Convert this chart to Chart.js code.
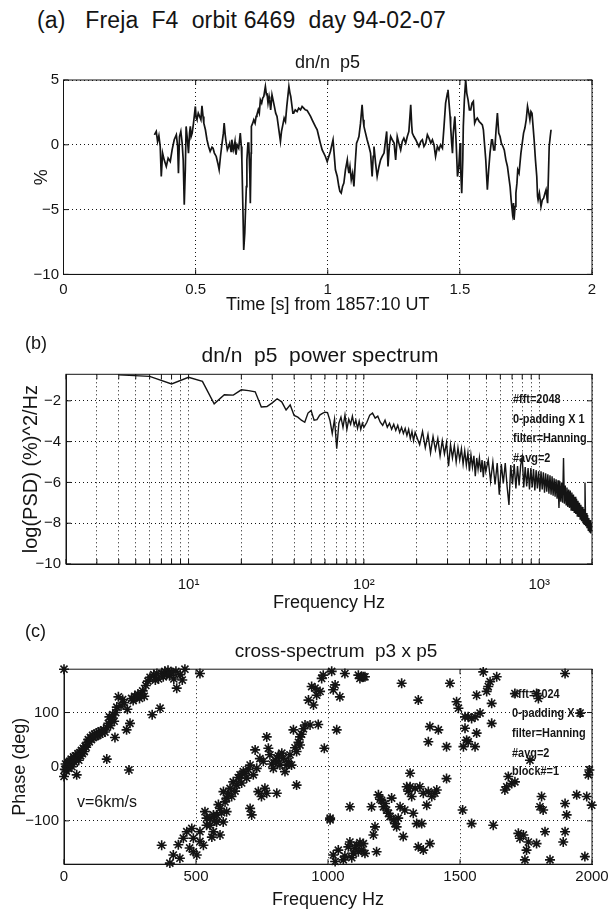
<!DOCTYPE html>
<html>
<head>
<meta charset="utf-8">
<title>Freja F4 orbit 6469</title>
<script src="https://cdn.jsdelivr.net/npm/chart.js@4.4.1/dist/chart.umd.min.js"></script>
<style>
  body { margin: 0; background: #fff; }
  #page { position: relative; width: 613px; height: 911px; background: #fff; overflow: hidden;
          font-family: "Liberation Sans", Arial, Helvetica, sans-serif; color: #141414; }
  .box { position: absolute; left: 0; width: 613px; }
  .t { position: absolute; white-space: pre; line-height: 1; }
  .note { position: absolute; white-space: pre; line-height: 1; font-size: 13px; font-weight: bold;
          transform: scaleX(0.84); transform-origin: 0 50%; }
</style>
</head>
<body>
<div id="page">
  <div class="box" style="top:60px;height:259px"><canvas id="chartA"></canvas></div>
  <div class="box" style="top:330px;height:285px"><canvas id="chartB"></canvas></div>
  <div class="box" style="top:640px;height:271px"><canvas id="chartC"></canvas></div>

  <div class="t" style="left:37px;top:9px;font-size:23px;letter-spacing:0.15px">(a)   Freja  F4  orbit 6469  day 94-02-07</div>
  <div class="t" style="left:63px;width:529px;top:53px;font-size:18px;text-align:center">dn/n  p5</div>

  <div class="t" style="left:25px;top:334px;font-size:18px">(b)</div>
  <div class="t" style="left:57px;width:526px;top:344px;font-size:21px;text-align:center">dn/n  p5  power spectrum</div>
  <div class="note" style="left:513px;top:392px">#fft=2048</div>
  <div class="note" style="left:513px;top:412px">0-padding X 1</div>
  <div class="note" style="left:513px;top:431px">filter=Hanning</div>
  <div class="note" style="left:513px;top:451px">#avg=2</div>

  <div class="t" style="left:25px;top:622px;font-size:18px">(c)</div>
  <div class="t" style="left:72px;width:528px;top:641px;font-size:19px;text-align:center">cross-spectrum  p3 x p5</div>
  <div class="t" style="left:77px;top:794px;font-size:16px">v=6km/s</div>
  <div class="note" style="left:512px;top:687px">#fft=1024</div>
  <div class="note" style="left:512px;top:706px">0-padding X 1</div>
  <div class="note" style="left:512px;top:726px">filter=Hanning</div>
  <div class="note" style="left:512px;top:746px">#avg=2</div>
  <div class="note" style="left:512px;top:764px">block#=1</div>
</div>

<script>
// (a) dn/n p5 time series
var timeS = [
  0.344,0.351,0.356,0.361,0.366,0.370,0.375,0.381,0.389,0.396,
  0.404,0.411,0.419,0.427,0.432,0.435,0.439,0.444,0.449,0.453,
  0.457,0.461,0.464,0.469,0.473,0.477,0.480,0.483,0.487,0.492,
  0.499,0.502,0.505,0.510,0.515,0.520,0.524,0.528,0.531,0.537,
  0.543,0.549,0.555,0.562,0.566,0.571,0.578,0.584,0.589,0.594,
  0.600,0.605,0.608,0.612,0.615,0.620,0.625,0.629,0.634,0.637,
  0.641,0.644,0.649,0.653,0.657,0.663,0.669,0.673,0.675,0.679,
  0.682,0.686,0.688,0.692,0.694,0.698,0.701,0.705,0.707,0.710,
  0.711,0.716,0.720,0.725,0.729,0.732,0.737,0.741,0.745,0.750,
  0.754,0.758,0.761,0.764,0.768,0.770,0.774,0.778,0.780,0.784,
  0.789,0.793,0.798,0.803,0.808,0.815,0.821,0.825,0.830,0.835,
  0.840,0.845,0.849,0.853,0.857,0.860,0.864,0.868,0.871,0.877,
  0.884,0.890,0.897,0.903,0.909,0.915,0.922,0.928,0.935,0.941,
  0.947,0.953,0.960,0.966,0.972,0.979,0.985,0.991,0.998,1.004,
  1.010,1.017,1.020,1.026,1.029,1.036,1.042,1.046,1.051,1.056,
  1.061,1.067,1.074,1.077,1.080,1.084,1.089,1.094,1.099,1.104,
  1.109,1.114,1.118,1.124,1.130,1.134,1.137,1.143,1.149,1.156,
  1.162,1.168,1.172,1.175,1.181,1.187,1.194,1.200,1.206,1.213,
  1.219,1.223,1.228,1.233,1.238,1.244,1.251,1.257,1.263,1.269,
  1.276,1.282,1.288,1.295,1.301,1.307,1.314,1.318,1.320,1.326,
  1.333,1.339,1.345,1.352,1.358,1.364,1.371,1.377,1.383,1.390,
  1.396,1.402,1.408,1.415,1.421,1.427,1.434,1.440,1.446,1.453,
  1.455,1.459,1.463,1.465,1.469,1.472,1.475,1.481,1.486,1.491,
  1.496,1.501,1.503,1.507,1.511,1.513,1.517,1.522,1.526,1.531,
  1.536,1.541,1.546,1.551,1.556,1.561,1.566,1.573,1.579,1.585,
  1.589,1.594,1.598,1.602,1.604,1.609,1.614,1.620,1.623,1.628,
  1.632,1.637,1.642,1.647,1.652,1.657,1.663,1.668,1.674,1.680,
  1.685,1.690,1.694,1.699,1.703,1.705,1.709,1.712,1.716,1.719,
  1.724,1.731,1.736,1.741,1.746,1.751,1.756,1.761,1.765,1.769,
  1.773,1.777,1.781,1.786,1.791,1.794,1.796,1.801,1.807,1.812,
  1.817,1.822,1.826,1.829,1.832,1.835,1.838,1.842,1.845
];
var dnPct = [
  0.77,1.03,0.26,0.71,-0.13,-2.45,-0.64,-1.16,-1.67,-1.03,
  -1.29,-0.39,0.39,0.77,-0.13,-2.19,0.64,1.03,0.13,-1.16,
  -4.63,-1.93,1.42,0.39,-0.64,0.90,1.42,0.64,0.90,1.67,
  2.96,2.06,1.93,2.44,2.19,1.93,3.01,2.19,1.67,1.16,
  0.39,-0.13,-0.51,-0.18,-0.26,-0.64,-0.90,-1.42,-1.93,-0.90,
  0.13,0.90,1.67,0.77,0.26,-0.39,-0.13,0.13,-0.51,0.39,
  -0.13,-0.39,0.26,-0.77,0.00,-0.26,0.90,-0.13,-1.16,-5.02,
  -8.11,-6.82,-5.53,-3.22,-1.16,0.13,0.13,-2.19,-4.50,-0.64,
  1.42,1.67,1.93,1.67,2.19,2.32,2.70,2.44,3.47,3.22,
  3.60,3.73,4.12,4.50,3.86,3.99,3.22,3.73,3.47,2.70,
  3.86,3.47,2.96,2.44,2.19,1.16,0.26,1.03,1.54,2.06,
  1.80,2.96,3.73,4.50,3.99,3.73,3.09,2.44,2.44,2.70,
  2.57,2.83,2.70,2.96,2.83,2.70,2.65,2.44,2.19,1.93,
  1.67,1.42,1.16,0.64,0.13,-0.39,-0.64,-0.90,-1.29,-0.90,
  -0.51,0.13,0.39,-1.16,-1.93,-2.45,-3.22,-3.60,-3.73,-3.22,
  -2.96,-1.93,-1.16,-1.80,-2.19,-1.67,-2.70,-2.19,-3.22,-1.42,
  0.13,0.39,0.64,1.67,3.09,1.93,1.42,0.90,0.39,-0.13,
  -0.64,-2.45,-0.90,-0.13,-1.42,-2.45,-1.67,-1.16,-0.90,-0.64,
  0.39,1.03,-1.67,-0.13,0.64,0.39,0.13,-1.16,0.64,0.13,
  -0.39,0.26,0.51,0.13,0.64,1.03,3.09,1.42,0.90,0.64,
  0.39,0.13,-0.13,0.26,0.39,-0.13,0.13,0.77,0.51,0.13,
  0.39,0.00,-0.90,-0.13,-0.39,0.00,-0.26,1.42,3.22,3.99,
  4.25,3.22,2.19,1.42,0.13,-0.64,0.90,2.19,0.13,-2.45,
  -1.67,0.13,-1.93,-3.73,-1.16,1.42,3.47,5.02,3.99,3.47,
  2.70,2.70,3.22,3.35,1.67,1.93,2.06,1.80,1.67,1.54,
  1.16,-0.13,-1.16,-2.70,-3.47,-1.93,-0.64,0.39,0.39,-0.39,
  -0.39,1.16,2.44,0.90,0.64,0.13,-0.13,-0.39,-1.16,-1.67,
  -2.45,-3.22,-4.25,-5.28,-4.50,-5.79,-4.76,-3.73,-2.96,-1.93,
  -2.19,-0.64,0.13,0.90,1.29,1.93,2.96,2.44,1.93,2.57,
  2.44,1.42,0.39,-1.16,-2.45,-3.99,-4.25,-3.73,-4.76,-4.25,
  -4.12,-3.73,-3.47,-3.99,-4.50,-2.45,-0.13,0.64,1.16
];

// (b) power spectrum, log10 of PSD
var psdFreq = [
  4,6,8,10,12,14,16,18,20,22,
  24,26,28,30,32,34,36,38,40,42,
  44,46,48,50,52,54,56,58,60,62,
  64,66,68,70,72,74,76,78,80,82,
  84,86,88,90,92,94,96,98,100,
  104,108,112,116,120,124,128,132,136,140,
  144,148,152,156,160,164,168,172,176,180,
  184,188,192,196,200,
  208,216,224,232,240,248,256,264,272,280,
  288,296,304,312,320,328,336,344,352,360,
  368,376,384,392,400,408,416,424,432,440,
  448,456,464,472,480,488,496,
  512,528,544,560,576,592,608,624,640,656,
  672,688,704,720,736,752,768,784,800,816,
  832,848,864,880,896,912,928,944,960,976,
  992,1008,1024,1040,1056,1072,1088,1104,1120,1136,
  1152,1168,1184,1200,1216,1232,1248,1264,1280,1296,
  1312,1328,1344,1360,1376,1392,1408,1424,1440,1456,
  1472,1488,1504,1520,1536,1552,1568,1584,1600,1616,
  1632,1648,1664,1680,1696,1712,1728,1744,1760,1776,
  1792,1808,1824,1840,1856,1872,1888,1904,1920,1936,
  1952,1968,1984,2000
];
var psdLog = [
  -0.73,-0.80,-1.17,-0.85,-1.05,-2.15,-1.70,-1.72,-1.46,-1.50,
  -1.56,-2.30,-2.28,-2.10,-1.90,-2.05,-2.45,-2.20,-2.72,-2.80,
  -2.95,-3.05,-2.60,-2.47,-2.95,-2.92,-2.70,-2.62,-2.56,-2.58,
  -2.95,-3.60,-2.90,-4.35,-3.10,-2.80,-3.30,-2.70,-3.40,-2.90,
  -3.15,-2.75,-3.20,-2.95,-3.35,-3.00,-3.40,-3.10,-3.30,
  -3.05,-2.70,-2.60,-2.85,-2.75,-3.05,-3.20,-2.95,-3.30,-3.10,
  -3.40,-3.15,-3.45,-3.20,-3.55,-3.30,-3.60,-3.35,-3.70,-3.40,
  -3.85,-3.50,-3.95,-3.55,-3.75,
  -4.15,-3.50,-4.30,-3.65,-4.55,-3.75,-4.40,-3.85,-4.70,-3.95,
  -4.60,-4.05,-5.20,-4.15,-4.80,-4.20,-5.00,-4.30,-4.90,-4.35,
  -5.10,-4.45,-5.15,-4.55,-5.45,-4.65,-5.25,-4.70,-5.70,-4.80,
  -5.35,-4.80,-5.50,-4.90,-5.75,-4.95,-5.45,
  -4.90,-5.95,-5.00,-6.10,-5.05,-6.60,-5.10,-6.05,-5.05,-6.20,
  -7.10,-5.15,-6.10,-5.10,-6.30,-5.20,-6.15,-5.15,-4.75,-6.25,
  -5.25,-6.20,-5.30,-6.35,-5.30,-6.25,-5.35,-6.40,-5.40,-6.30,
  -5.45,-6.45,-5.45,-6.35,-5.50,-6.50,-5.55,-6.45,-5.60,-6.55,
  -5.65,-6.60,-5.70,-6.65,-5.80,-6.70,-5.85,-6.80,-5.90,-7.25,
  -5.95,-6.95,-6.00,-7.00,-4.80,-7.05,-6.15,-7.10,-6.25,-7.20,
  -6.35,-7.25,-6.40,-7.35,-6.50,-7.40,-6.60,-7.50,-6.70,-7.55,
  -6.80,-7.65,-6.90,-7.70,-7.00,-7.80,-7.10,-7.90,-7.20,-8.00,
  -7.30,-8.05,-6.00,-8.15,-7.50,-8.25,-7.60,-8.35,-7.75,-8.45,
  -7.85,-8.50,-8.00,-8.40
];
var logTicks = [2,3,4,5,6,7,8,9,10,20,30,40,50,60,70,80,90,100,200,300,400,500,600,700,800,900,1000,2000];
var decadeLabels = { 10: '10\u00b9', 100: '10\u00b2', 1000: '10\u00b3' };
var psdTicks = [-10, -8, -6, -4, -2];

// (c) cross-spectrum phase p3 x p5
var crossFreq = [
  0,0,3,6,9,12,15,18,21,24,
  27,30,33,36,40,43,48,50,53,56,
  60,63,66,70,73,77,80,84,88,92,
  96,100,104,108,112,116,120,124,128,132,
  136,140,145,150,155,162,162,168,172,176,
  180,185,190,193,196,200,206,216,222,228,
  237,240,246,250,256,262,268,274,280,286,
  292,298,304,310,318,326,334,340,346,352,
  358,364,370,376,382,388,394,400,408,416,
  424,427,440,448,458,515,
  370,401,414,433,439,452,465,476,484,490,
  490,503,515,515,528,534,540,540,553,553,
  560,566,566,572,578,578,585,591,591,597,
  603,604,610,616,616,622,629,635,641,648,
  654,660,667,673,679,686,692,698,705,705,
  711,717,724,730,736,742,748,755,761,768,
  768,774,780,787,793,800,806,806,812,818,
  825,831,837,844,850,856,862,869,875,881,
  881,888,894,894,900,907,913,926,932,938,
  945,951,957,963,970,976,982,986,1008,1014,
  1008,1020,1027,1039,1058,1064,1077,1083,1083,1090,
  1096,1102,1108,1115,1121,1128,1134,1140,1165,1172,
  1178,1184,1191,1197,1203,1210,1216,1222,1229,1235,
  1241,1248,1254,1260,1266,1273,1285,1291,1298,1304,
  1311,1311,1317,1323,1330,1336,1342,1348,1355,1361,
  1361,1374,1380,1386,1393,1405,1412,1449,1510,1544,
  1626,
  1020,1027,1033,1045,1064,1115,1121,1128,1134,1140,
  1279,1342,1380,1386,1418,1449,1462,1487,1494,1513,
  1519,1519,1525,1531,1531,1544,1557,1557,1563,1563,
  1576,1588,1601,1607,1614,1620,1620,1639,1708,1765,
  1790,1797,1898,1955,
  1670,1677,1683,1696,1708,1721,1727,1740,1746,1752,
  1759,1790,1803,1809,1815,1822,1841,1891,1898,1898,
  1904,1942,1973,1980,1986,1990,1999
];
var crossPhase = [
  180,-18,-5,5,-8,2,8,-3,10,4,
  14,0,12,18,8,20,-15,16,24,12,
  26,20,30,24,34,28,38,36,45,50,
  46,54,50,58,54,60,56,62,58,64,
  60,66,62,68,64,14,72,80,92,76,
  88,96,84,54,100,110,129,112,124,118,
  68,106,-6,80,126,122,130,128,134,126,
  132,140,130,150,158,165,96,170,160,172,
  162,108,172,166,176,170,178,168,174,162,
  176,145,170,160,180,172,
  -145,-178,-163,-144,-169,-132,-120,-150,-114,-132,
  -157,-163,-120,-138,-145,-83,-95,-108,-108,-95,
  -130,-89,-120,-100,-102,-89,-70,-77,-126,-85,
  -102,-46,-65,-58,-83,-50,-40,-55,-28,-45,
  -34,-20,-15,-30,-9,-12,-21,-5,3,-77,
  -89,-15,31,-3,-46,15,-55,10,-40,55,
  -49,34,22,5,-3,12,9,-49,20,3,
  25,15,-9,3,9,22,3,68,35,28,
  -34,45,55,40,60,70,77,123,77,148,
  114,145,132,78,139,163,169,34,-98,176,
  -95,-163,-175,-154,-172,-165,-148,-139,-74,-168,
  -160,-151,-145,-157,-140,-154,-142,-160,-74,-126,
  -111,-157,-52,-60,-62,-74,-68,-80,-86,-92,
  -58,-98,-105,-111,-95,-74,-129,-80,-37,-45,
  -37,-12,-55,-86,-40,-105,-148,-37,-105,-49,
  -154,-71,-46,-142,-55,-49,-43,-22,-80,-105,
  -108,
  142,151,68,129,172,169,163,166,166,166,
  154,123,46,74,68,37,154,120,108,37,
  92,71,49,92,46,89,92,37,62,132,
  99,175,139,148,157,117,80,166,135,12,
  135,126,172,99,
  -43,-37,-18,-31,-28,-123,-132,-126,-172,-154,
  -139,-142,-74,-55,-80,-120,-172,-139,-68,-120,
  -89,-52,-166,-55,-15,-6,-71
];
var phaseTicks = [-100, 0, 100];

var ink = '#141414';
Chart.defaults.font.family = '"Liberation Sans", Arial, Helvetica, sans-serif';
Chart.defaults.color = ink;

function toPoints(xs, ys) {
    var pts = [];
    for (var i = 0; i < xs.length; i++) {
        pts.push({ x: xs[i], y: ys[i] });
    }
    return pts;
}

// plain numbers, real minus sign, no thousands comma
function plainLabel(value) {
    return String(value).replace('-', '\u2212');
}

function setTicks(list) {
    return function (scale) {
        scale.ticks = list.map(function (v) { return { value: v }; });
    };
}

// matlab style box round the plot area, with short inward tick marks
var frame = {
    id: 'frame',
    afterDatasetsDraw: function (chart) {
        var a = chart.chartArea;
        var ctx = chart.ctx;
        var len = 5;
        ctx.save();
        ctx.strokeStyle = ink;
        ctx.lineWidth = 1;
        ctx.strokeRect(a.left, a.top, a.right - a.left, a.bottom - a.top);
        ctx.beginPath();
        chart.scales.x.ticks.forEach(function (t) {
            var px = chart.scales.x.getPixelForValue(t.value);
            ctx.moveTo(px, a.bottom); ctx.lineTo(px, a.bottom - len);
            ctx.moveTo(px, a.top); ctx.lineTo(px, a.top + len);
        });
        chart.scales.y.ticks.forEach(function (t) {
            var py = chart.scales.y.getPixelForValue(t.value);
            ctx.moveTo(a.left, py); ctx.lineTo(a.left + len, py);
            ctx.moveTo(a.right, py); ctx.lineTo(a.right - len, py);
        });
        ctx.stroke();
        ctx.restore();
    }
};

var grid = { color: ink, lineWidth: 1, drawTicks: false };
var border = { display: true, color: ink, dash: [1, 3] };
var tickFont = { size: 15 };
var titleFont = { size: 18 };

var common = {
    responsive: true,
    maintainAspectRatio: false,
    animation: false,
    plugins: { legend: { display: false }, tooltip: { enabled: false } }
};

// (a)
new Chart(document.getElementById('chartA'), {
    type: 'line',
    data: {
        datasets: [{
            data: toPoints(timeS, dnPct),
            borderColor: ink,
            borderWidth: 1.7,
            pointRadius: 0,
            tension: 0
        }]
    },
    options: Object.assign({}, common, {
        layout: { padding: { top: 20, right: 21, left: 0, bottom: 0 } },
        scales: {
            x: {
                type: 'linear', min: 0, max: 2,
                grid: grid, border: border,
                ticks: { stepSize: 0.5, padding: 6, font: tickFont, color: ink, maxRotation: 0, callback: plainLabel },
                title: { display: true, text: 'Time [s] from 1857:10 UT', font: titleFont, color: ink, padding: { top: 0, bottom: 3 } },
                afterFit: function (s) { s.height = 44.6; }
            },
            y: {
                min: -10, max: 5,
                grid: grid, border: border,
                ticks: { stepSize: 5, padding: 4.5, font: tickFont, color: ink, callback: plainLabel },
                title: { display: true, text: '%', font: titleFont, color: ink, padding: { top: 31, bottom: 0 } },
                afterFit: function (s) { s.width = 63.5; }
            }
        }
    }),
    plugins: [frame]
});

// (b)
new Chart(document.getElementById('chartB'), {
    type: 'line',
    data: {
        datasets: [{
            data: toPoints(psdFreq, psdLog),
            borderColor: ink,
            borderWidth: 1.4,
            pointRadius: 0,
            tension: 0
        }]
    },
    options: Object.assign({}, common, {
        layout: { padding: { top: 44.3, right: 21, left: 0, bottom: 0 } },
        scales: {
            x: {
                type: 'logarithmic', min: 2, max: 2000,
                grid: grid, border: border,
                afterBuildTicks: setTicks(logTicks),
                ticks: {
                    autoSkip: false, maxRotation: 0, padding: 12, font: tickFont, color: ink,
                    callback: function (v) { return decadeLabels[v] || ''; }
                },
                title: { display: true, text: 'Frequency Hz', font: titleFont, color: ink, padding: { top: 0, bottom: 1.2 } },
                afterFit: function (s) { s.height = 51; }
            },
            y: {
                min: -10, max: -0.7,
                grid: grid, border: border,
                afterBuildTicks: setTicks(psdTicks),
                ticks: { padding: 5, font: tickFont, color: ink, callback: plainLabel },
                title: { display: true, text: 'log(PSD) (%)^2/Hz', font: { size: 20 }, color: ink, padding: { top: 19, bottom: 0 } },
                afterFit: function (s) { s.width = 66; }
            }
        }
    }),
    plugins: [frame]
});

// (c)
new Chart(document.getElementById('chartC'), {
    type: 'scatter',
    data: {
        datasets: [{
            data: toPoints(crossFreq, crossPhase),
            pointStyle: 'star',
            pointRadius: 5,
            borderColor: ink,
            backgroundColor: ink,
            borderWidth: 1.6,
            clip: false
        }]
    },
    options: Object.assign({}, common, {
        layout: { padding: { top: 29.2, right: 21, left: 0, bottom: 0 } },
        scales: {
            x: {
                type: 'linear', min: 0, max: 2000,
                grid: grid, border: border,
                ticks: { stepSize: 500, padding: 3.8, font: tickFont, color: ink, maxRotation: 0, callback: plainLabel },
                title: { display: true, text: 'Frequency Hz', font: titleFont, color: ink, padding: { top: 0, bottom: 0.2 } },
                afterFit: function (s) { s.height = 46.8; }
            },
            y: {
                min: -180, max: 180,
                grid: grid, border: border,
                afterBuildTicks: setTicks(phaseTicks),
                ticks: { padding: 5, font: tickFont, color: ink, callback: plainLabel },
                title: { display: true, text: 'Phase (deg)', font: titleFont, color: ink, padding: { top: 9, bottom: 0 } },
                afterFit: function (s) { s.width = 64; }
            }
        }
    }),
    plugins: [frame]
});
</script>
</body>
</html>
